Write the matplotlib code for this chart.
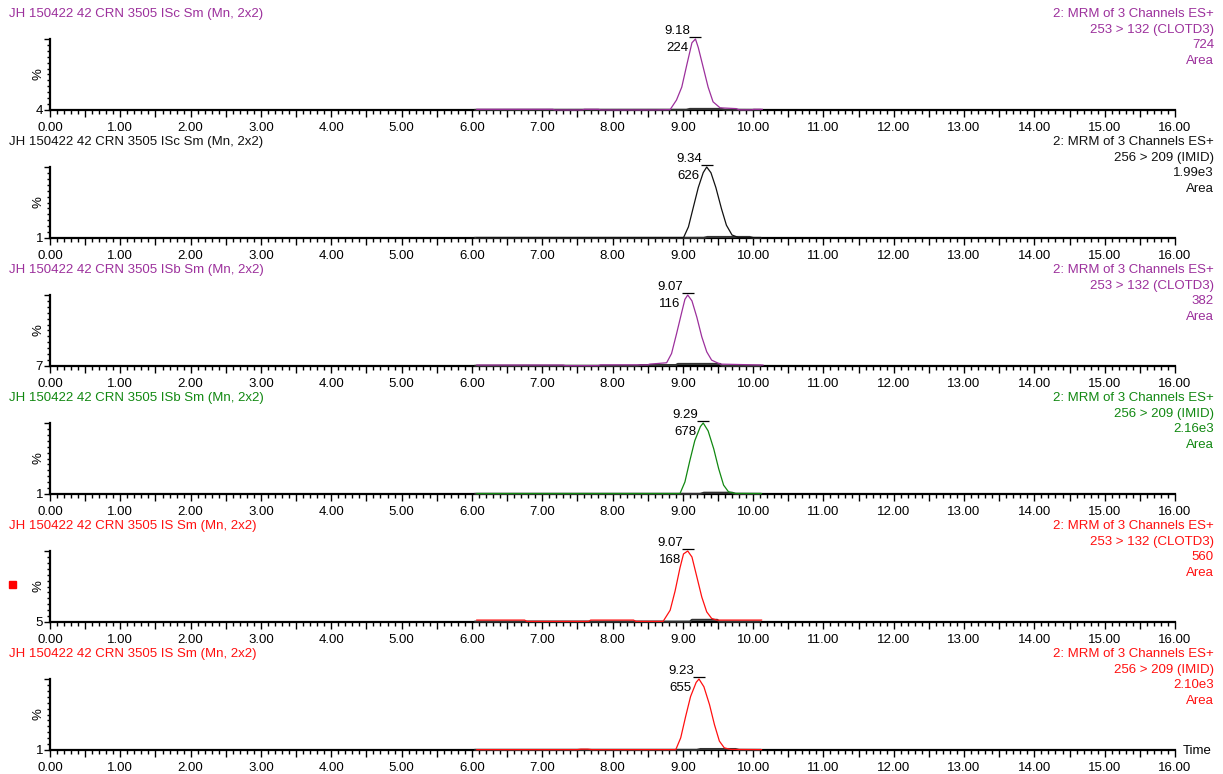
import matplotlib
matplotlib.use('Agg')
import matplotlib.pyplot as plt
from matplotlib.patches import Rectangle
from matplotlib.ticker import MultipleLocator, FuncFormatter

plt.rcParams['font.family'] = ['Liberation Sans', 'DejaVu Sans']

# one entry per trace, top to bottom
titles = ['JH 150422 42 CRN 3505 ISc Sm (Mn, 2x2)',
          'JH 150422 42 CRN 3505 ISc Sm (Mn, 2x2)',
          'JH 150422 42 CRN 3505 ISb Sm (Mn, 2x2)',
          'JH 150422 42 CRN 3505 ISb Sm (Mn, 2x2)',
          'JH 150422 42 CRN 3505 IS Sm (Mn, 2x2)',
          'JH 150422 42 CRN 3505 IS Sm (Mn, 2x2)']
channels = ['253 > 132 (CLOTD3)', '256 > 209 (IMID)'] * 3
scale_text = ['724', '1.99e3', '382', '2.16e3', '560', '2.10e3']
y_offset = [4, 1, 7, 1, 5, 1]
y_max = [724, 1990, 382, 2160, 560, 2100]
peak_rt = [9.18, 9.34, 9.07, 9.29, 9.07, 9.23]
peak_area = [224, 626, 116, 678, 168, 655]
colors = ['#9c309c', '#111111', '#9c309c', '#118811', '#ff1010', '#ff1010']

# main chromatogram traces
t1 = [6.07, 7.15, 7.18, 7.57, 7.60, 7.80, 7.83, 8.62, 8.82, 8.91, 8.985, 9.06, 9.13, 9.18,
      9.22, 9.29, 9.36, 9.43, 9.53, 9.76, 9.80, 9.98, 10.01, 10.13]
y1 = [11, 11, 5, 5, 11, 11, 5, 5, 8, 105, 236, 472, 686, 724,
      637, 437, 236, 87, 26, 18, 6, 6, 11, 11]
t2 = [6.07, 9.01, 9.08, 9.15, 9.22, 9.29, 9.34, 9.40, 9.47, 9.55, 9.62, 9.70, 9.79, 10.12]
y2 = [8, 10, 313, 866, 1415, 1832, 1990, 1830, 1415, 820, 360, 85, 15, 10]
t3 = [6.07, 7.30, 7.33, 7.80, 7.83, 8.50, 8.53, 8.77, 8.84, 8.91, 8.99, 9.03, 9.07,
      9.13, 9.20, 9.27, 9.34, 9.41, 9.53, 10.14]
y3 = [12, 12, 9, 9, 13, 13, 17, 24, 73, 176, 299, 359, 382,
      351, 264, 161, 82, 38, 17, 12]
t4 = [6.07, 8.96, 9.03, 9.10, 9.17, 9.25, 9.29, 9.36, 9.44, 9.51, 9.58, 9.65, 9.74, 10.12]
y4 = [15, 15, 368, 1016, 1620, 2052, 2160, 1920, 1372, 771, 271, 66, 20, 15]
t5 = [6.07, 6.75, 6.78, 7.66, 7.69, 8.30, 8.33, 8.72, 8.82, 8.89, 8.96, 9.01, 9.07,
      9.13, 9.20, 9.27, 9.34, 9.41, 9.48, 10.12]
y5 = [20, 20, 10, 10, 20, 20, 10, 10, 97, 247, 429, 537, 560,
      513, 357, 200, 84, 33, 20, 20]
t6 = [6.07, 7.50, 7.55, 7.65, 7.70, 8.90, 8.97, 9.04, 9.11, 9.19, 9.23, 9.30, 9.38,
      9.45, 9.52, 9.59, 9.68, 10.12]
y6 = [12, 12, 25, 25, 12, 12, 360, 990, 1580, 2000, 2100, 1870, 1340,
      750, 265, 64, 18, 12]

# overlaid reference traces (drawn dark under the main ones)
ot1 = [6.05, 8.60, 9.05, 9.10, 9.55, 9.60, 10.10]
oy1 = [5, 6, 6, 15, 15, 6, 5]
ot2 = [6.05, 9.30, 9.35, 9.95, 10.00, 10.10]
oy2 = [5, 5, 30, 30, 5, 5]
ot3 = [6.05, 8.35, 8.40, 8.90, 8.93, 9.53, 9.56, 10.10]
oy3 = [8, 8, 12, 12, 18, 18, 8, 8]
ot4 = [6.05, 9.25, 9.30, 9.70, 9.75, 10.10]
oy4 = [5, 5, 40, 40, 5, 5]
ot5 = [6.05, 9.10, 9.13, 9.49, 9.52, 10.10]
oy5 = [8, 8, 22, 22, 8, 8]
ot6 = [6.05, 9.20, 9.25, 9.75, 9.80, 10.10]
oy6 = [5, 5, 30, 30, 5, 5]

traces = [(t1, y1), (t2, y2), (t3, y3), (t4, y4), (t5, y5), (t6, y6)]
overlays = [(ot1, oy1), (ot2, oy2), (ot3, oy3), (ot4, oy4), (ot5, oy5), (ot6, oy6)]

W, H = 1223, 774
fig = plt.figure(figsize=(W / 100, H / 100), dpi=100)
fs = 9.5

for i in range(6):
    top = 39 + 128 * i
    bottom = 110 + 128 * i
    ax = fig.add_axes([50 / W, 1 - bottom / H, 1125 / W, (bottom - top) / H])
    c = colors[i]

    ot, oy = overlays[i]
    ax.plot(ot, oy, color='#333333', lw=1.5, clip_on=False, zorder=2)
    t, y = traces[i]
    ax.plot(t, y, color=c, lw=0.9, clip_on=False, zorder=3)

    lo, hi = y_offset[i], y_max[i]
    ax.set_xlim(0, 16)
    ax.set_ylim(lo, hi)

    for s in ['top', 'right']:
        ax.spines[s].set_visible(False)
    for s in ['left', 'bottom']:
        ax.spines[s].set_linewidth(1.6)
        ax.spines[s].set_zorder(1)

    # time axis: long ticks every 0.5, labels every 1.0, minor every 0.1
    ax.xaxis.set_major_locator(MultipleLocator(0.5))
    ax.xaxis.set_minor_locator(MultipleLocator(0.1))
    ax.xaxis.set_major_formatter(
        FuncFormatter(lambda v, p: '%.2f' % v if abs(v - round(v)) < 1e-6 else ''))
    ax.tick_params(axis='x', which='major', length=5, width=1, pad=3.5, labelsize=fs)
    ax.tick_params(axis='x', which='minor', length=3, width=1)

    # intensity axis: only the offset is labelled
    ax.set_yticks([lo, hi])
    ax.set_yticklabels([str(lo), ''])
    ax.set_yticks([lo + (hi - lo) * k / 12 for k in range(1, 12)], minor=True)
    ax.tick_params(axis='y', which='major', length=4, width=1, pad=1, labelsize=fs)
    ax.tick_params(axis='y', which='minor', length=2.5, width=1)
    ax.text(-12 / 1125, 0.5, '%', rotation=90, transform=ax.transAxes,
            ha='center', va='center', fontsize=fs)

    # peak label: retention time and area
    rt = peak_rt[i]
    ax.plot([rt], [hi + (hi - lo) * 0.025], marker='_', ms=8, mew=0.9,
            color='black', clip_on=False)
    ax.annotate('%.2f' % rt, (rt, hi), xytext=(-5, 2), textcoords='offset pixels',
                ha='right', va='bottom', fontsize=fs, annotation_clip=False)
    ax.annotate(str(peak_area[i]), (rt, hi), xytext=(-7, -9), textcoords='offset pixels',
                ha='right', va='center', fontsize=fs, annotation_clip=False)

    # header texts
    y0 = 14 + 128 * i
    fig.text(9 / W, 1 - y0 / H, titles[i], color=c, fontsize=fs, ha='left', va='center')
    right_lines = ['2: MRM of 3 Channels ES+', channels[i], scale_text[i], 'Area']
    for k, line in enumerate(right_lines):
        fig.text(1214 / W, 1 - (y0 + 15.5 * k) / H, line, color=c, fontsize=fs,
                 ha='right', va='center')

fig.text(1183 / W, 1 - 751 / H, 'Time', fontsize=fs, ha='left', va='center')
fig.patches.append(Rectangle((9 / W, 1 - 588 / H), 7 / W, 7 / H, color='#ff0000',
                             transform=fig.transFigure, figure=fig))

fig.savefig('out.png', dpi=100)
